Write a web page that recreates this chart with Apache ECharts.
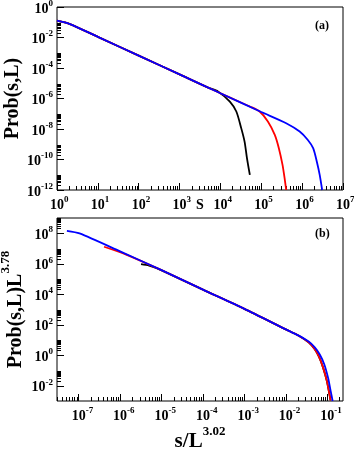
<!DOCTYPE html>
<html>
<head>
<meta charset="utf-8">
<script src="https://cdn.jsdelivr.net/npm/echarts@6/dist/echarts.min.js"></script>
<style>
html,body{margin:0;padding:0;background:#fff;}
#chart{width:354px;height:449px;}
</style>
</head>
<body>
<div id="chart"></div>
<script>
// panel (a): Prob(s,L) vs s, three system sizes
const sBlack = [1, 2, 10, 100, 1000, 5000, 8700, 17000, 24500, 32400, 39000, 44700, 52500];
const pBlack = [0.126, 0.079, 1.1e-2, 6.5e-4, 3.8e-5, 5.2e-6, 2.9e-6, 6.3e-7, 1.4e-7, 1.1e-8, 1.5e-9, 1.2e-10, 9.8e-12];
const sRed = [1, 2, 10, 100, 1000, 1e4, 3.16e4, 5.25e4, 9.1e4, 1.45e5, 2.14e5, 2.69e5, 3.31e5, 3.72e5, 4.07e5];
const pRed = [0.126, 0.079, 1.1e-2, 6.5e-4, 3.8e-5, 2.2e-6, 5.5e-7, 3.0e-7, 1.4e-7, 3.1e-8, 4.1e-9, 5.5e-10, 4.4e-11, 5.9e-12, 1e-12];
const sBlue = [1, 2, 10, 100, 1000, 1e4, 1e5, 4.07e5, 8.7e5, 1.38e6, 1.86e6, 2.29e6, 2.69e6, 3.09e6];
const pBlue = [0.126, 0.079, 1.1e-2, 6.5e-4, 3.8e-5, 2.2e-6, 1.3e-7, 2.4e-8, 6.8e-9, 1.9e-9, 5.5e-10, 7.2e-11, 9.8e-12, 1e-12];

// panel (b): scaled collapse
const xBlack = [3.2e-6, 5e-6, 7.6e-6, 1e-4, 1e-3, 1e-2, 2.0e-2, 3.55e-2, 5.0e-2, 6.3e-2, 7.9e-2, 9.8e-2, 0.12];
const yBlack = [9.3e5, 7.6e5, 5.2e5, 2.0e4, 1.1e3, 50, 20, 7.1, 2.5, 0.8, 0.16, 2.0e-2, 1.1e-3];
const xRed = [4.1e-7, 1.4e-6, 1e-5, 1e-4, 1e-3, 1e-2, 2.0e-2, 3.55e-2, 5.0e-2, 6.3e-2, 7.9e-2, 9.8e-2, 0.12];
const yRed = [1.3e7, 4.0e6, 3.8e5, 2.0e4, 1.1e3, 50, 20, 7.1, 2.5, 0.8, 0.16, 2.0e-2, 1.1e-3];
const xBlue = [5.2e-8, 1.05e-7, 1e-6, 1e-5, 1e-4, 1e-3, 1e-2, 2.0e-2, 3.55e-2, 5.0e-2, 6.6e-2, 8.5e-2, 0.105, 0.12, 0.135];
const yBlue = [1.45e8, 9.8e7, 6.5e6, 3.8e5, 2.0e4, 1.1e3, 50, 20, 7.9, 3.3, 1.12, 0.25, 3.2e-2, 5e-3, 1e-3];

// tick positions
const topXTicks = [1, 10, 100, 1e3, 1e4, 1e5, 1e6, 1e7];
const topYTicks = [1e-12, 1e-10, 1e-8, 1e-6, 1e-4, 1e-2, 1];
const botXTicks = [1e-7, 1e-6, 1e-5, 1e-4, 1e-3, 1e-2, 1e-1];
const botYTicks = [1e-2, 1, 1e2, 1e4, 1e6, 1e8];
const minorMult = [2, 3, 4, 5, 6, 7, 8, 9];

const FONT = "'Liberation Serif', 'Times New Roman', serif";

const minorsOf = (decades, lo, hi) => {
    let out = [];
    decades.forEach(d => minorMult.forEach(m => {
        const v = m * d;
        if (v > lo && v < hi) out.push(v);
    }));
    return out;
};

const pairs = (xs, ys) => xs.map((x, i) => [x, ys[i]]);

const richLab = {
    h: {fontFamily: FONT, fontWeight: 'bold', fontSize: 9, color: 'rgba(0,0,0,0)', verticalAlign: 'top', lineHeight: 10},
    b: {fontFamily: FONT, fontWeight: 'bold', fontSize: 14, color: '#000', lineHeight: 20},
    s: {fontFamily: FONT, fontWeight: 'bold', fontSize: 9, color: '#000', verticalAlign: 'top', lineHeight: 10}
};
const expOf = v => Math.round(Math.log10(v));
const xLab = v => '{h|' + expOf(v) + '}{b|10}{s|' + expOf(v) + '}';
const yLab = v => '{b|10}{s|' + expOf(v) + '}';

const majorAxis = (gridIndex, min, max, ticks, fmt, isX, extra) => Object.assign({
    type: 'log', logBase: 10, gridIndex: gridIndex, min: min, max: max,
    position: isX ? 'bottom' : 'left',
    axisLine: {show: false},
    splitLine: {show: false},
    nameMoveOverlap: false,
    axisTick: {show: true, inside: true, length: 7, customValues: ticks, lineStyle: {color: '#000', width: 1}},
    axisLabel: {
        show: true, customValues: ticks, formatter: fmt, rich: richLab,
        margin: isX ? 5 : 4, padding: isX ? 0 : [4, 0, 0, 0]
    }
}, extra || {});

const minorAxis = (gridIndex, min, max, ticks, isX) => ({
    type: 'log', logBase: 10, gridIndex: gridIndex, min: min, max: max,
    position: isX ? 'bottom' : 'left',
    axisLine: {show: false},
    splitLine: {show: false},
    axisTick: {show: true, inside: true, length: 4, customValues: ticks, lineStyle: {color: '#000', width: 1}},
    axisLabel: {show: false}
});

const topYDec = [1e-12, 1e-10, 1e-8, 1e-6, 1e-4, 1e-2];
const topXDec = [1, 10, 100, 1e3, 1e4, 1e5, 1e6];
const botYDec = [1e-2, 1, 1e2, 1e4, 1e6, 1e8];
const botXDec = [1e-8, 1e-7, 1e-6, 1e-5, 1e-4, 1e-3, 1e-2, 1e-1];

const lineSeries = (data, color, xi, yi) => ({
    type: 'line', data: data, xAxisIndex: xi, yAxisIndex: yi,
    showSymbol: false, smooth: 0.25, animation: false,
    lineStyle: {color: color, width: 1.8}
});

const option = {
    animation: false,
    backgroundColor: '#fff',
    grid: [
        {left: 57, top: 7, width: 286, height: 183, show: true, borderColor: '#000', borderWidth: 1, outerBoundsMode: 'none'},
        {left: 57, top: 218, width: 286, height: 183, show: true, borderColor: '#000', borderWidth: 1, outerBoundsMode: 'none'}
    ],
    xAxis: [
        majorAxis(0, 1, 1e7, topXTicks, xLab, true, {
            name: 'S', nameLocation: 'middle', nameGap: 8,
            nameTextStyle: {fontFamily: FONT, fontWeight: 'bold', fontSize: 14, color: '#000'}
        }),
        minorAxis(0, 1, 1e7, minorsOf(topXDec, 1, 1e7), true),
        majorAxis(1, 3e-8, 0.24, botXTicks, xLab, true, {
            name: '{m|s/L}{p|3.02}', nameLocation: 'middle', nameGap: 24,
            nameTextStyle: {
                rich: {
                    m: {fontFamily: FONT, fontWeight: 'bold', fontSize: 21, color: '#000', lineHeight: 34},
                    p: {fontFamily: FONT, fontWeight: 'bold', fontSize: 13, color: '#000', verticalAlign: 'top', lineHeight: 14}
                }
            }
        }),
        minorAxis(1, 3e-8, 0.24, minorsOf(botXDec, 3e-8, 0.24), true)
    ],
    yAxis: [
        majorAxis(0, 1e-12, 1, topYTicks, yLab, false, {
            name: 'Prob(s,L)', nameLocation: 'middle', nameGap: 34,
            nameTextStyle: {fontFamily: FONT, fontWeight: 'bold', fontSize: 20, color: '#000'}
        }),
        minorAxis(0, 1e-12, 1, minorsOf(topYDec, 1e-12, 1), false),
        majorAxis(1, 1e-3, 1e9, botYTicks, yLab, false, {
            name: '{m|Prob(s,L)L}{p|3.78}', nameLocation: 'middle', nameGap: 24,
            nameTextStyle: {
                rich: {
                    m: {fontFamily: FONT, fontWeight: 'bold', fontSize: 20, color: '#000', lineHeight: 34},
                    p: {fontFamily: FONT, fontWeight: 'bold', fontSize: 13, color: '#000', verticalAlign: 'top', lineHeight: 14}
                }
            }
        }),
        minorAxis(1, 1e-3, 1e9, minorsOf(botYDec, 1e-3, 1e9), false)
    ],
    graphic: [
        {type: 'text', left: 315, top: 20, style: {text: '(a)', fontFamily: FONT, fontWeight: 'bold', fontSize: 12, fill: '#000'}},
        {type: 'text', left: 315, top: 228, style: {text: '(b)', fontFamily: FONT, fontWeight: 'bold', fontSize: 12, fill: '#000'}}
    ],
    series: [
        lineSeries(pairs(sBlack, pBlack), '#000000', 0, 0),
        lineSeries(pairs(sRed, pRed), '#ff0000', 0, 0),
        lineSeries(pairs(sBlue, pBlue), '#0000ff', 0, 0),
        lineSeries(pairs(xBlack, yBlack), '#000000', 2, 2),
        lineSeries(pairs(xRed, yRed), '#ff0000', 2, 2),
        lineSeries(pairs(xBlue, yBlue), '#0000ff', 2, 2)
    ]
};

const myChart = echarts.init(document.getElementById('chart'), null, {renderer: 'canvas'});
myChart.setOption(option);
</script>
</body>
</html>
